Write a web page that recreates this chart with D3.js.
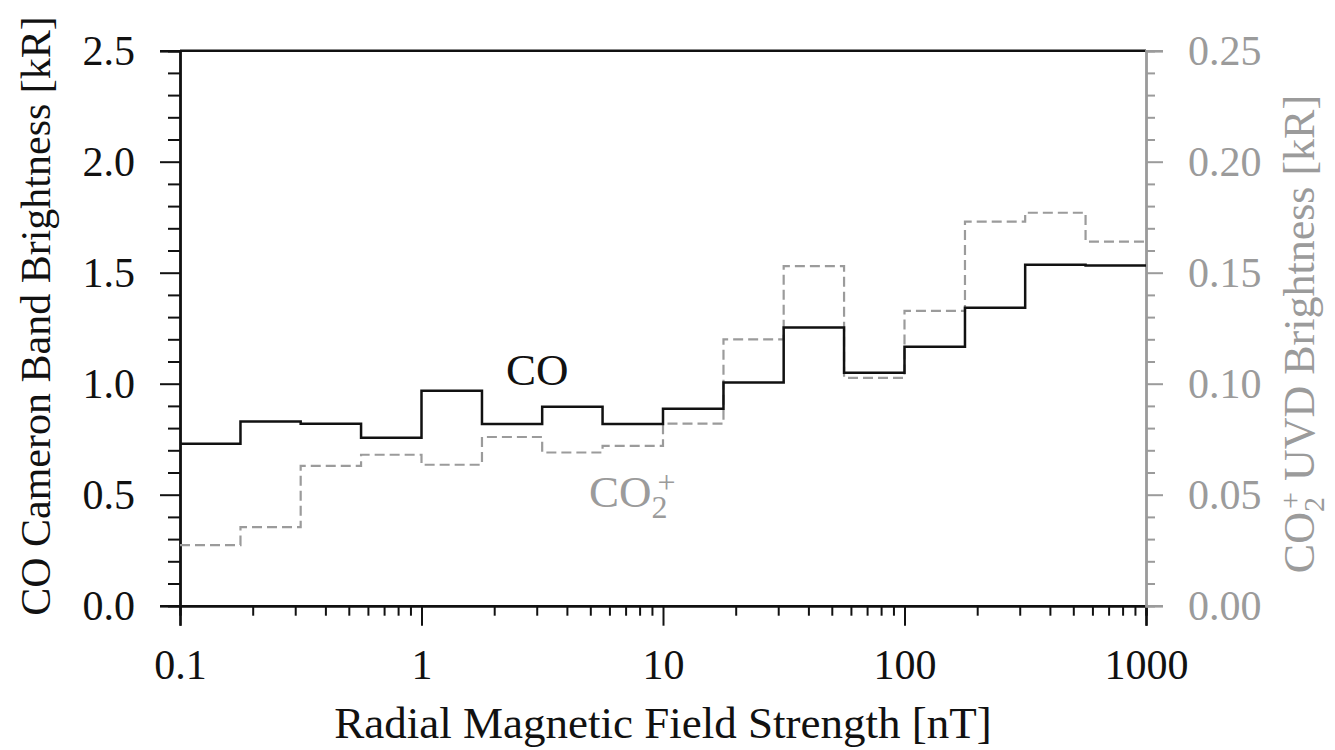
<!DOCTYPE html>
<html>
<head>
<meta charset="utf-8">
<script src="https://cdn.jsdelivr.net/npm/d3@7"></script>
<style>
  html, body { margin: 0; padding: 0; background: #fff; }
  svg { display: block; font-family: "Liberation Serif", "Times New Roman", serif; }
</style>
</head>
<body>
<svg id="chart" width="1335" height="750"></svg>
<script>
// ---- data ----
const binEdges = [0.1, 0.178, 0.316, 0.562, 1, 1.78, 3.16, 5.62, 10, 17.8, 31.6, 56.2, 100, 178, 316, 562, 1000];
const coValues = [0.73, 0.83, 0.82, 0.756, 0.968, 0.818, 0.896, 0.818, 0.887, 1.005, 1.253, 1.049, 1.166, 1.342, 1.536, 1.532];
const co2pValues = [0.0273, 0.0354, 0.063, 0.068, 0.0635, 0.076, 0.069, 0.072, 0.082, 0.120, 0.153, 0.1026, 0.1328, 0.173, 0.177, 0.164];
const xMajorTicks = [0.1, 1, 10, 100, 1000];
const xTickLabels = ["0.1", "1", "10", "100", "1000"];
const yLeftMajor = [0, 0.5, 1.0, 1.5, 2.0, 2.5];
const yRightMajor = [0, 0.05, 0.10, 0.15, 0.20, 0.25];

const GRAY = "#9b9b9b";
const svg = d3.select("#chart");
const L = 180, R = 1146, T = 50.7, B = 605.7;

const x = d3.scaleLog().domain([0.1, 1000]).range([L, R]);
const yL = d3.scaleLinear().domain([0, 2.5]).range([B, T]);
const yR = d3.scaleLinear().domain([0, 0.25]).range([B, T]);

// minor tick values
const xMinor = [];
xMajorTicks.slice(0, -1).forEach(d => { for (let k = 2; k <= 9; k++) xMinor.push(d * k); });
const yLMinor = d3.range(0, 26).map(i => i / 10).filter(v => !yLeftMajor.some(m => Math.abs(m - v) < 1e-9));
const yRMinor = d3.range(0, 26).map(i => i / 100).filter(v => !yRightMajor.some(m => Math.abs(m - v) < 1e-9));

function styleAxis(g, color, width) {
  g.selectAll("path.domain").attr("stroke", color).attr("stroke-width", width);
  g.selectAll(".tick line").attr("stroke", color).attr("stroke-width", 2);
  g.selectAll(".tick text").attr("fill", color).style("font-size", "42px")
    .style("font-family", '"Liberation Serif", "Times New Roman", serif');
}

// top frame line
svg.append("line").attr("x1", L).attr("x2", R).attr("y1", T).attr("y2", T)
  .attr("stroke", "#111").attr("stroke-width", 2.4);

// bottom axis: minor then major
const gxMin = svg.append("g").attr("transform", `translate(0,${B})`)
  .call(d3.axisBottom(x).tickValues(xMinor).tickSize(10).tickFormat(""));
styleAxis(gxMin, "#111", 2.4);
const gx = svg.append("g").attr("transform", `translate(0,${B})`)
  .call(d3.axisBottom(x).tickValues(xMajorTicks).tickSize(20).tickPadding(23)
    .tickFormat((d, i) => xTickLabels[i]));
styleAxis(gx, "#111", 2.4);

// left axis
const gyMin = svg.append("g").attr("transform", `translate(${L},0)`)
  .call(d3.axisLeft(yL).tickValues(yLMinor).tickSize(12).tickFormat(""));
styleAxis(gyMin, "#111", 2.4);
const gy = svg.append("g").attr("transform", `translate(${L},0)`)
  .call(d3.axisLeft(yL).tickValues(yLeftMajor).tickSize(20).tickPadding(25).tickFormat(d3.format(".1f")));
styleAxis(gy, "#111", 2.4);

// right axis (gray)
const grMin = svg.append("g").attr("transform", `translate(${R},0)`)
  .call(d3.axisRight(yR).tickValues(yRMinor).tickSize(9).tickFormat(""));
styleAxis(grMin, GRAY, 2.4);
const gr = svg.append("g").attr("transform", `translate(${R},0)`)
  .call(d3.axisRight(yR).tickValues(yRightMajor).tickSize(17).tickPadding(25).tickFormat(d3.format(".2f")));
styleAxis(gr, GRAY, 2.4);

// step lines
function stepPoints(vals) {
  const pts = vals.map((v, i) => [binEdges[i], v]);
  pts.push([binEdges[binEdges.length - 1], vals[vals.length - 1]]);
  return pts;
}
const lineL = d3.line().x(d => x(d[0])).y(d => yL(d[1])).curve(d3.curveStepAfter);
const lineR = d3.line().x(d => x(d[0])).y(d => yR(d[1])).curve(d3.curveStepAfter);

svg.append("path").attr("d", lineR(stepPoints(co2pValues)))
  .attr("fill", "none").attr("stroke", GRAY).attr("stroke-width", 2.2)
  .attr("stroke-dasharray", "10,5");
svg.append("path").attr("d", lineL(stepPoints(coValues)))
  .attr("fill", "none").attr("stroke", "#111").attr("stroke-width", 2.5);

// in-plot labels
svg.append("text").attr("x", 506).attr("y", 385).style("font-size", "45px").attr("fill", "#111").text("CO");
const t2 = svg.append("text").attr("x", 589).attr("y", 507).style("font-size", "45px").attr("fill", GRAY);
t2.append("tspan").text("CO");
t2.append("tspan").attr("dy", 11).style("font-size", "32px").text("2");
t2.append("tspan").attr("dx", -10).attr("dy", -25).style("font-size", "32px").text("+");

// axis titles
svg.append("text").attr("x", 663).attr("y", 738).attr("text-anchor", "middle")
  .style("font-size", "45px").attr("fill", "#111").text("Radial Magnetic Field Strength [nT]");

svg.append("text").attr("transform", "translate(50,316) rotate(-90)").attr("text-anchor", "middle")
  .style("font-size", "42px").attr("fill", "#111").text("CO Cameron Band Brightness [kR]");

const tr = svg.append("text").attr("transform", "translate(1314,334) rotate(-90)").attr("text-anchor", "middle")
  .style("font-size", "44px").attr("fill", GRAY);
tr.append("tspan").text("CO");
tr.append("tspan").attr("dy", 10).style("font-size", "30px").text("2");
tr.append("tspan").attr("dx", -12).attr("dy", -24).style("font-size", "30px").text("+");
tr.append("tspan").attr("dy", 14).text(" UVD Brightness [kR]");
</script>
</body>
</html>
